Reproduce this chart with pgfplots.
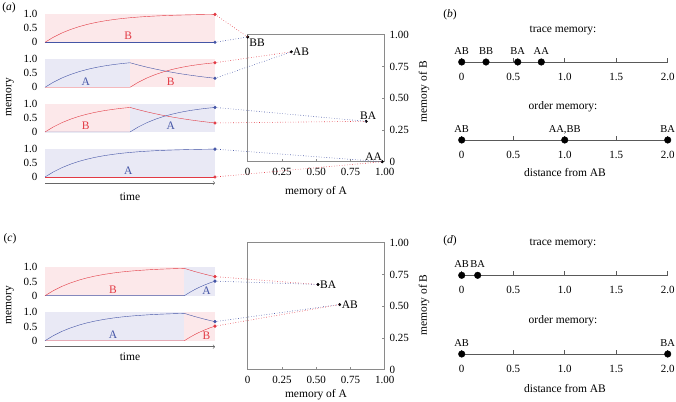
\documentclass[border=0pt]{standalone}
\usepackage{fontspec}
\setmainfont{Liberation Serif}
\usepackage{pgfplots}
\pgfplotsset{compat=1.18}
\definecolor{myred}{HTML}{E23A44}
\definecolor{myblue}{HTML}{4455A6}
\definecolor{pinkbg}{HTML}{FCE8EA}
\definecolor{bluebg}{HTML}{E9E9F5}
\definecolor{axgray}{HTML}{8A8A8A}
\newcommand\fs{\fontsize{11}{13}\selectfont}
\newcommand\fl{\fontsize{11.5}{13}\selectfont}
\newcommand\fd{\fontsize{10.5}{12}\selectfont}
\pgfplotsset{
  tsax/.style={scale only axis, width=170pt, height=28.4pt, xmin=0, xmax=1, ymin=0, ymax=1,
    axis line style={draw=none}, xtick=\empty, ytick={0,0.5,1}, yticklabels={0,0.5,1.0},
    major tick length=0pt, clip=false, anchor=south west,
    yticklabel style={font=\fs, xshift=-4pt}},
  scax/.style={scale only axis, width=137pt, height=127pt, xmin=0, xmax=1, ymin=0, ymax=1,
    axis line style={axgray, line width=0.8pt}, tick style={axgray, line width=0.6pt},
    xtick={0,0.25,0.5,0.75,1}, xticklabels={0,0.25,0.50,0.75,1.00},
    ytick={0,0.25,0.5,0.75,1}, yticklabels={0,0.25,0.50,0.75,1.00},
    xtick pos=left, ytick pos=right, yticklabel pos=right, major tick length=3pt,
    ticklabel style={font=\fs}, xticklabel style={yshift=-2.5pt}, yticklabel style={xshift=1.5pt},
    clip=false, anchor=south west},
  nlax/.style={scale only axis, width=206pt, height=10pt, xmin=0, xmax=2, ymin=0, ymax=1,
    axis x line=bottom, axis y line=none, axis line style={-, black!65, line width=0.7pt},
    xtick={0,0.5,1,1.5,2}, xticklabels={0,0.5,1.0,1.5,2.0}, tick align=inside,
    major tick length=4pt, tick style={black!65, line width=0.6pt},
    xticklabel style={font=\fs, yshift=-7.5pt}, clip=false, anchor=south west,
    nodes near coords, point meta=explicit symbolic,
    every node near coord/.append style={font=\fd, anchor=base, yshift=7.5pt, inner sep=0pt}},
  endr/.style={only marks, mark=*, mark size=1.4pt, myred},
  endb/.style={only marks, mark=*, mark size=1.4pt, myblue},
  nldot/.style={only marks, mark=*, mark size=3.3pt, black},
}
\begin{document}
\begin{tikzpicture}
\useasboundingbox (0,0) rectangle (676pt,401pt);
% ---------------- panel (a) time series ----------------
\begin{axis}[tsax, at={(45pt,358.7pt)}]
\addplot[draw=none, fill=pinkbg] coordinates {(0,0)(0,1)(1,1)(1,0)} --cycle;
\addplot[myblue, thin] coordinates {(0,0)(1,0)};
\addplot[myred, thin] coordinates {(0,0)(0.05,0.181)(0.1,0.330)(0.15,0.451)(0.2,0.551)(0.25,0.632)(0.3,0.699)(0.35,0.753)(0.4,0.798)(0.45,0.835)(0.5,0.865)(0.55,0.889)(0.6,0.909)(0.65,0.926)(0.7,0.939)(0.75,0.950)(0.8,0.959)(0.85,0.967)(0.9,0.973)(0.95,0.978)(1,0.982)};
\addplot[endr] coordinates {(1,0.982)};
\addplot[endb] coordinates {(1,0)};
\node[myred, font=\fl] at (axis cs:0.49,0.22) {B};
\coordinate (a1r) at (axis cs:1,0.982);
\coordinate (a1b) at (axis cs:1,0);
\end{axis}
\begin{axis}[tsax, at={(45pt,313.7pt)}]
\addplot[draw=none, fill=bluebg] coordinates {(0,0)(0,1)(0.5,1)(0.5,0)} --cycle;
\addplot[draw=none, fill=pinkbg] coordinates {(0.5,0)(0.5,1)(1,1)(1,0)} --cycle;
\addplot[myblue, thin] coordinates {(0,0)(0.05,0.181)(0.1,0.330)(0.15,0.451)(0.2,0.551)(0.25,0.632)(0.3,0.699)(0.35,0.753)(0.4,0.798)(0.45,0.835)(0.5,0.865)(0.55,0.783)(0.6,0.708)(0.65,0.641)(0.7,0.580)(0.75,0.525)(0.8,0.475)(0.85,0.430)(0.9,0.389)(0.95,0.352)(1,0.318)};
\addplot[myred, thin] coordinates {(0,0)(0.5,0)(0.55,0.181)(0.6,0.330)(0.65,0.451)(0.7,0.551)(0.75,0.632)(0.8,0.699)(0.85,0.753)(0.9,0.798)(0.95,0.835)(1,0.865)};
\addplot[endr] coordinates {(1,0.865)};
\addplot[endb] coordinates {(1,0.318)};
\node[myblue, font=\fl] at (axis cs:0.24,0.21) {A};
\node[myred, font=\fl] at (axis cs:0.74,0.21) {B};
\coordinate (a2r) at (axis cs:1,0.865);
\coordinate (a2b) at (axis cs:1,0.318);
\end{axis}
\begin{axis}[tsax, at={(45pt,269pt)}]
\addplot[draw=none, fill=pinkbg] coordinates {(0,0)(0,1)(0.5,1)(0.5,0)} --cycle;
\addplot[draw=none, fill=bluebg] coordinates {(0.5,0)(0.5,1)(1,1)(1,0)} --cycle;
\addplot[myred, thin] coordinates {(0,0)(0.05,0.181)(0.1,0.330)(0.15,0.451)(0.2,0.551)(0.25,0.632)(0.3,0.699)(0.35,0.753)(0.4,0.798)(0.45,0.835)(0.5,0.865)(0.55,0.783)(0.6,0.708)(0.65,0.641)(0.7,0.580)(0.75,0.525)(0.8,0.475)(0.85,0.430)(0.9,0.389)(0.95,0.352)(1,0.318)};
\addplot[myblue, thin] coordinates {(0,0)(0.5,0)(0.55,0.181)(0.6,0.330)(0.65,0.451)(0.7,0.551)(0.75,0.632)(0.8,0.699)(0.85,0.753)(0.9,0.798)(0.95,0.835)(1,0.865)};
\addplot[endb] coordinates {(1,0.865)};
\addplot[endr] coordinates {(1,0.318)};
\node[myred, font=\fl] at (axis cs:0.24,0.21) {B};
\node[myblue, font=\fl] at (axis cs:0.74,0.21) {A};
\coordinate (a3b) at (axis cs:1,0.865);
\coordinate (a3r) at (axis cs:1,0.318);
\end{axis}
\begin{axis}[tsax, at={(45pt,224pt)}]
\addplot[draw=none, fill=bluebg] coordinates {(0,0)(0,1)(1,1)(1,0)} --cycle;
\addplot[myred, thin] coordinates {(0,0)(1,0)};
\addplot[myblue, thin] coordinates {(0,0)(0.05,0.181)(0.1,0.330)(0.15,0.451)(0.2,0.551)(0.25,0.632)(0.3,0.699)(0.35,0.753)(0.4,0.798)(0.45,0.835)(0.5,0.865)(0.55,0.889)(0.6,0.909)(0.65,0.926)(0.7,0.939)(0.75,0.950)(0.8,0.959)(0.85,0.967)(0.9,0.973)(0.95,0.978)(1,0.982)};
\addplot[endb] coordinates {(1,0.982)};
\addplot[endr] coordinates {(1,0)};
\node[myblue, font=\fl] at (axis cs:0.49,0.22) {A};
\coordinate (a4b) at (axis cs:1,0.982);
\coordinate (a4r) at (axis cs:1,0);
\end{axis}
\node[font=\fl, rotate=90] at (10pt,304pt) {memory};
\draw[black!60, ->, line width=0.6pt] (45pt,218pt) -- (215pt,218pt);
\node[font=\fl] at (130pt,204pt) {time};
% ---------------- panel (a) scatter ----------------
\begin{axis}[scax, at={(247.7pt,239.3pt)}]
\addplot[only marks, mark=*, mark size=1.3pt, black] coordinates {(0,0.982)(0.318,0.865)(0.865,0.318)(0.982,0)};
\node[font=\fl, anchor=north west, inner sep=1.5pt] at (axis cs:0,0.982) {BB};
\node[font=\fl, anchor=west, inner sep=1.5pt] at (axis cs:0.318,0.865) {AB};
\node[font=\fl, anchor=south, inner sep=2pt, xshift=2pt] at (axis cs:0.865,0.318) {BA};
\node[font=\fl, anchor=south east, inner sep=1pt, xshift=1pt] at (axis cs:0.982,0) {AA};
\coordinate (sBB) at (axis cs:0,0.982);
\coordinate (sAB) at (axis cs:0.318,0.865);
\coordinate (sBA) at (axis cs:0.865,0.318);
\coordinate (sAA) at (axis cs:0.982,0);
\end{axis}
\node[font=\fl] at (316pt,209.3pt) {memory of A};
\node[font=\fl, rotate=90] at (424pt,309pt) {memory of B};
\draw[myred, dotted, line width=0.6pt] (a1r) -- (sBB);
\draw[myblue, dotted, line width=0.6pt] (a1b) -- (sBB);
\draw[myred, dotted, line width=0.6pt] (a2r) -- (sAB);
\draw[myblue, dotted, line width=0.6pt] (a2b) -- (sAB);
\draw[myblue, dotted, line width=0.6pt] (a3b) -- (sBA);
\draw[myred, dotted, line width=0.6pt] (a3r) -- (sBA);
\draw[myblue, dotted, line width=0.6pt] (a4b) -- (sAA);
\draw[myred, dotted, line width=0.6pt] (a4r) -- (sAA);
% ---------------- panel (b) ----------------
\node[font=\fl] at (9pt,393pt) {(\textit{a})};
\node[font=\fl] at (450pt,386pt) {(\textit{b})};
\node[font=\fl] at (563pt,370pt) {trace memory:};
\begin{axis}[nlax, at={(461.7pt,339pt)}]
\addplot[nldot] coordinates {(0,0)[AB] (0.236,0)[BB] (0.544,0)[BA] (0.773,0)[AA]};
\end{axis}
\node[font=\fl] at (563pt,294pt) {order memory:};
\begin{axis}[nlax, at={(461.7pt,261pt)}]
\addplot[nldot] coordinates {(0,0)[AB] (1,0)[AA{,}BB] (2,0)[BA]};
\end{axis}
\node[font=\fl] at (565pt,228pt) {distance from AB};
% ---------------- panel (c) time series ----------------
\node[font=\fl] at (10pt,162pt) {(\textit{c})};
\begin{axis}[tsax, at={(45pt,105.3pt)}]
\addplot[draw=none, fill=pinkbg] coordinates {(0,0)(0,1)(0.82,1)(0.82,0)} --cycle;
\addplot[draw=none, fill=bluebg] coordinates {(0.82,0)(0.82,1)(1,1)(1,0)} --cycle;
\addplot[myblue, thin] coordinates {(0,0)(0.82,0)(0.85,0.113)(0.88,0.213)(0.91,0.302)(0.94,0.381)(0.97,0.451)(1,0.513)};
\addplot[myred, thin] coordinates {(0,0)(0.05,0.181)(0.1,0.330)(0.15,0.451)(0.2,0.551)(0.25,0.632)(0.3,0.699)(0.35,0.753)(0.4,0.798)(0.45,0.835)(0.5,0.865)(0.55,0.889)(0.6,0.909)(0.65,0.926)(0.7,0.939)(0.75,0.950)(0.8,0.959)(0.82,0.962)(0.85,0.906)(0.88,0.853)(0.91,0.804)(0.94,0.757)(0.97,0.713)(1,0.671)};
\addplot[endr] coordinates {(1,0.671)};
\addplot[endb] coordinates {(1,0.513)};
\node[myred, font=\fl] at (axis cs:0.40,0.20) {B};
\node[myblue, font=\fl] at (axis cs:0.95,0.18) {A};
\coordinate (c1r) at (axis cs:1,0.671);
\coordinate (c1b) at (axis cs:1,0.513);
\end{axis}
\begin{axis}[tsax, at={(45pt,60.3pt)}]
\addplot[draw=none, fill=bluebg] coordinates {(0,0)(0,1)(0.82,1)(0.82,0)} --cycle;
\addplot[draw=none, fill=pinkbg] coordinates {(0.82,0)(0.82,1)(1,1)(1,0)} --cycle;
\addplot[myred, thin] coordinates {(0,0)(0.82,0)(0.85,0.113)(0.88,0.213)(0.91,0.302)(0.94,0.381)(0.97,0.451)(1,0.513)};
\addplot[myblue, thin] coordinates {(0,0)(0.05,0.181)(0.1,0.330)(0.15,0.451)(0.2,0.551)(0.25,0.632)(0.3,0.699)(0.35,0.753)(0.4,0.798)(0.45,0.835)(0.5,0.865)(0.55,0.889)(0.6,0.909)(0.65,0.926)(0.7,0.939)(0.75,0.950)(0.8,0.959)(0.82,0.962)(0.85,0.906)(0.88,0.853)(0.91,0.804)(0.94,0.757)(0.97,0.713)(1,0.671)};
\addplot[endb] coordinates {(1,0.671)};
\addplot[endr] coordinates {(1,0.513)};
\node[myblue, font=\fl] at (axis cs:0.40,0.20) {A};
\node[myred, font=\fl] at (axis cs:0.95,0.18) {B};
\coordinate (c2b) at (axis cs:1,0.671);
\coordinate (c2r) at (axis cs:1,0.513);
\end{axis}
\node[font=\fl, rotate=90] at (10pt,96pt) {memory};
\draw[black!60, ->, line width=0.6pt] (45pt,54.3pt) -- (215pt,54.3pt);
\node[font=\fl] at (130pt,44.3pt) {time};
% ---------------- panel (c) scatter ----------------
\begin{axis}[scax, at={(247.7pt,31.3pt)}]
\addplot[only marks, mark=*, mark size=1.3pt, black] coordinates {(0.513,0.671)(0.671,0.513)};
\node[font=\fl, anchor=west, inner sep=2pt] at (axis cs:0.513,0.671) {BA};
\node[font=\fl, anchor=west, inner sep=2pt] at (axis cs:0.671,0.513) {AB};
\coordinate (tBA) at (axis cs:0.513,0.671);
\coordinate (tAB) at (axis cs:0.671,0.513);
\end{axis}
\node[font=\fl] at (316pt,6.5pt) {memory of A};
\node[font=\fl, rotate=90] at (424pt,96pt) {memory of B};
\draw[myred, dotted, line width=0.6pt] (c1r) -- (tBA);
\draw[myblue, dotted, line width=0.6pt] (c1b) -- (tBA);
\draw[myblue, dotted, line width=0.6pt] (c2b) -- (tAB);
\draw[myred, dotted, line width=0.6pt] (c2r) -- (tAB);
% ---------------- panel (d) ----------------
\node[font=\fl] at (450pt,160.3pt) {(\textit{d})};
\node[font=\fl] at (563pt,157pt) {trace memory:};
\begin{axis}[nlax, at={(461.7pt,125.7pt)}]
\addplot[nldot] coordinates {(0,0)[AB] (0.155,0)[BA]};
\end{axis}
\node[font=\fl] at (563pt,80.3pt) {order memory:};
\begin{axis}[nlax, at={(461.7pt,47pt)}]
\addplot[nldot] coordinates {(0,0)[AB] (2,0)[BA]};
\end{axis}
\node[font=\fl] at (565pt,12.7pt) {distance from AB};
\end{tikzpicture}
\end{document}
